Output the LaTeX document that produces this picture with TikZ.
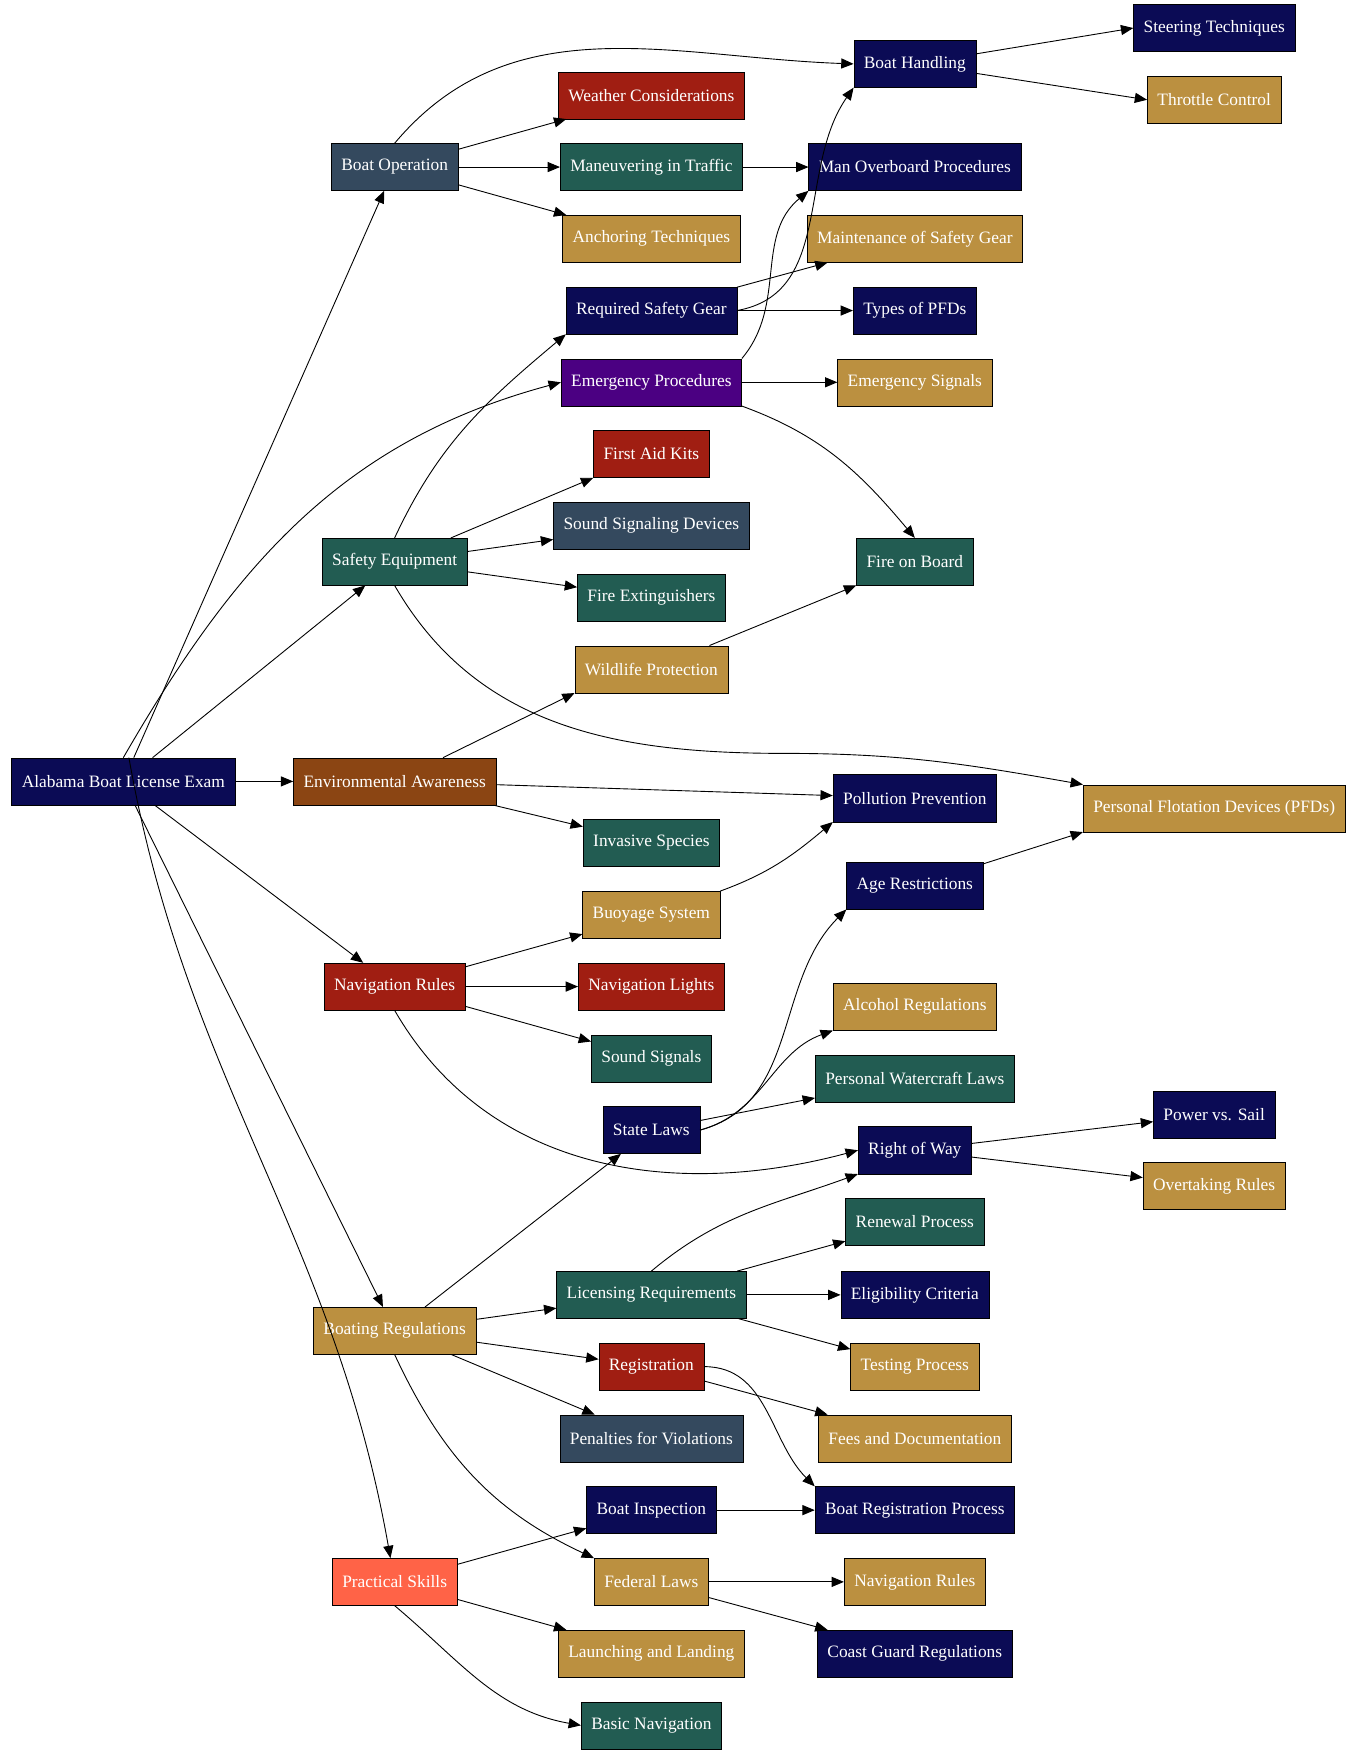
\documentclass[tikz,border=0pt]{standalone}
\usepackage{fontspec}
\setmainfont{Liberation Serif}
\usetikzlibrary{arrows.meta}
\definecolor{navyc}{HTML}{0B0B55}
\definecolor{slatec}{HTML}{34495E}
\definecolor{tealc}{HTML}{225C52}
\definecolor{goldc}{HTML}{BB9040}
\definecolor{redc}{HTML}{A01E12}
\definecolor{purplec}{HTML}{4B0082}
\definecolor{brownc}{HTML}{8B4513}
\definecolor{tomatoc}{HTML}{FF6347}
\tikzset{
  box/.style={draw=black, text=white, minimum height=42pt, inner xsep=9pt,
    font=\fontsize{15.5}{18}\selectfont},
  navy/.style={box, fill=navyc}, slate/.style={box, fill=slatec},
  teal/.style={box, fill=tealc}, gold/.style={box, fill=goldc},
  red/.style={box, fill=redc}, purple/.style={box, fill=purplec},
  brown/.style={box, fill=brownc}, tomato/.style={box, fill=tomatoc},
  link/.style={-{Triangle[length=11pt,width=9pt]}, line width=0.8pt}
}
\begin{document}
\begin{tikzpicture}[x=1pt,y=-1pt]
\useasboundingbox (0,0) rectangle (1210,1569);
% nodes
\node[navy] (exam) at (110,697) {Alabama Boat License Exam};
\node[slate] (boatop) at (352,149) {Boat Operation};
\node[red] (weather) at (581,85) {Weather Considerations};
\node[teal] (traffic) at (581,149) {Maneuvering in Traffic};
\node[gold] (anchor) at (581,213) {Anchoring Techniques};
\node[navy] (handling) at (816,57) {Boat Handling};
\node[navy] (steering) at (1083,25) {Steering Techniques};
\node[gold] (throttle) at (1083,89) {Throttle Control};
\node[navy] (overboard) at (816,149) {Man Overboard Procedures};
\node[gold] (maint) at (816,213) {Maintenance of Safety Gear};
\node[navy] (reqgear) at (581,277) {Required Safety Gear};
\node[navy] (pfdtypes) at (816,277) {Types of PFDs};
\node[purple] (emerg) at (581,341) {Emergency Procedures};
\node[gold] (signals) at (816,341) {Emergency Signals};
\node[red] (firstaid) at (581,405) {First Aid Kits};
\node[slate] (sounddev) at (581,469) {Sound Signaling Devices};
\node[teal] (safety) at (352,501) {Safety Equipment};
\node[teal] (fireext) at (581,533) {Fire Extinguishers};
\node[teal] (fire) at (816,501) {Fire on Board};
\node[gold] (wildlife) at (581,597) {Wildlife Protection};
\node[brown] (env) at (352,697) {Environmental Awareness};
\node[navy] (pollution) at (816,712) {Pollution Prevention};
\node[gold] (pfds) at (1083,721) {Personal Flotation Devices (PFDs)};
\node[teal] (invasive) at (581,752) {Invasive Species};
\node[navy] (age) at (816,790) {Age Restrictions};
\node[gold] (buoy) at (581,816) {Buoyage System};
\node[red] (navrules) at (352,880) {Navigation Rules};
\node[red] (lights) at (581,880) {Navigation Lights};
\node[gold] (alcohol) at (816,898) {Alcohol Regulations};
\node[teal] (soundsig) at (581,944) {Sound Signals};
\node[teal] (pwc) at (816,962) {Personal Watercraft Laws};
\node[navy] (powersail) at (1083,994) {Power vs. Sail};
\node[navy] (state) at (581,1008) {State Laws};
\node[navy] (rightway) at (816,1026) {Right of Way};
\node[gold] (overtake) at (1083,1058) {Overtaking Rules};
\node[teal] (renewal) at (816,1090) {Renewal Process};
\node[teal] (licensing) at (581,1155) {Licensing Requirements};
\node[navy] (eligib) at (816,1155) {Eligibility Criteria};
\node[gold] (boatreg) at (352,1187) {Boating Regulations};
\node[gold] (testing) at (816,1219) {Testing Process};
\node[red] (registr) at (581,1219) {Registration};
\node[slate] (penalty) at (581,1283) {Penalties for Violations};
\node[gold] (fees) at (816,1283) {Fees and Documentation};
\node[navy] (inspect) at (581,1347) {Boat Inspection};
\node[navy] (regproc) at (816,1347) {Boat Registration Process};
\node[tomato] (practical) at (352,1411) {Practical Skills};
\node[gold] (federal) at (581,1411) {Federal Laws};
\node[gold] (navrules2) at (816,1411) {Navigation Rules};
\node[gold] (launch) at (581,1475) {Launching and Landing};
\node[navy] (coast) at (816,1475) {Coast Guard Regulations};
\node[teal] (basicnav) at (581,1539) {Basic Navigation};
% connectors
\draw[link] (exam) -- (boatop);
\draw[link] (exam) -- (safety);
\draw[link] (exam) -- (env);
\draw[link] (exam) -- (navrules);
\draw[link] (exam) -- (boatreg);
\draw[link] (exam.north) ++(5,0) to[out=-80,in=100] (practical);
\draw[link] (exam.north) to[out=60,in=195] (emerg.west);
\draw[link] (boatop) -- (weather);
\draw[link] (boatop) -- (traffic);
\draw[link] (boatop) -- (anchor);
\draw[link] (boatop.north) to[out=50,in=178] (handling.west);
\draw[link] (traffic) -- (overboard);
\draw[link] (handling) -- (steering.west);
\draw[link] (handling) -- (throttle.west);
\draw[link] (reqgear.east) to[out=10,in=235] (handling.south west);
\draw[link] (reqgear) -- (maint);
\draw[link] (reqgear) -- (pfdtypes);
\draw[link] (emerg.north east) to[out=50,in=220] (overboard.south west);
\draw[link] (emerg) -- (signals);
\draw[link] (emerg.south east) to[out=-20,in=130] (fire.north);
\draw[link] (safety.north) to[out=65,in=220] (reqgear.south west);
\draw[link] (safety) -- (firstaid.south west);
\draw[link] (safety) -- (sounddev);
\draw[link] (safety) -- (fireext);
\draw[link] (safety.south) to[out=-60,in=180] (700,672) to[out=0,in=170] (pfds.north west);
\draw[link] (wildlife) -- (fire.south west);
\draw[link] (env) -- (wildlife.south west);
\draw[link] (env) -- (pollution);
\draw[link] (env) -- (invasive);
\draw[link] (buoy.north east) to[out=20,in=220] (pollution.south west);
\draw[link] (age) -- (pfds.south west);
\draw[link] (navrules) -- (buoy);
\draw[link] (navrules) -- (lights);
\draw[link] (navrules) -- (soundsig);
\draw[link] (navrules.south) to[out=-60,in=195] (rightway.west);
\draw[link] (state.east) to[out=15,in=225] (age.south west);
\draw[link] (state.east) to[out=15,in=200] (alcohol.south west);
\draw[link] (state) -- (pwc);
\draw[link] (rightway) -- (powersail);
\draw[link] (rightway) -- (overtake);
\draw[link] (boatreg) -- (state);
\draw[link] (boatreg) -- (licensing);
\draw[link] (boatreg) -- (registr);
\draw[link] (boatreg) -- (penalty);
\draw[link] (boatreg.south) to[out=-65,in=155] (federal.north west);
\draw[link] (licensing.north) to[out=40,in=200] (rightway.south west);
\draw[link] (licensing) -- (renewal);
\draw[link] (licensing) -- (eligib);
\draw[link] (licensing) -- (testing);
\draw[link] (registr) -- (fees);
\draw[link] (registr.east) to[out=0,in=135] (regproc.north west);
\draw[link] (inspect) -- (regproc);
\draw[link] (practical) -- (inspect);
\draw[link] (practical) -- (launch);
\draw[link] (practical.south) to[out=-40,in=170] (basicnav.west);
\draw[link] (federal) -- (navrules2);
\draw[link] (federal) -- (coast);
\end{tikzpicture}
\end{document}
